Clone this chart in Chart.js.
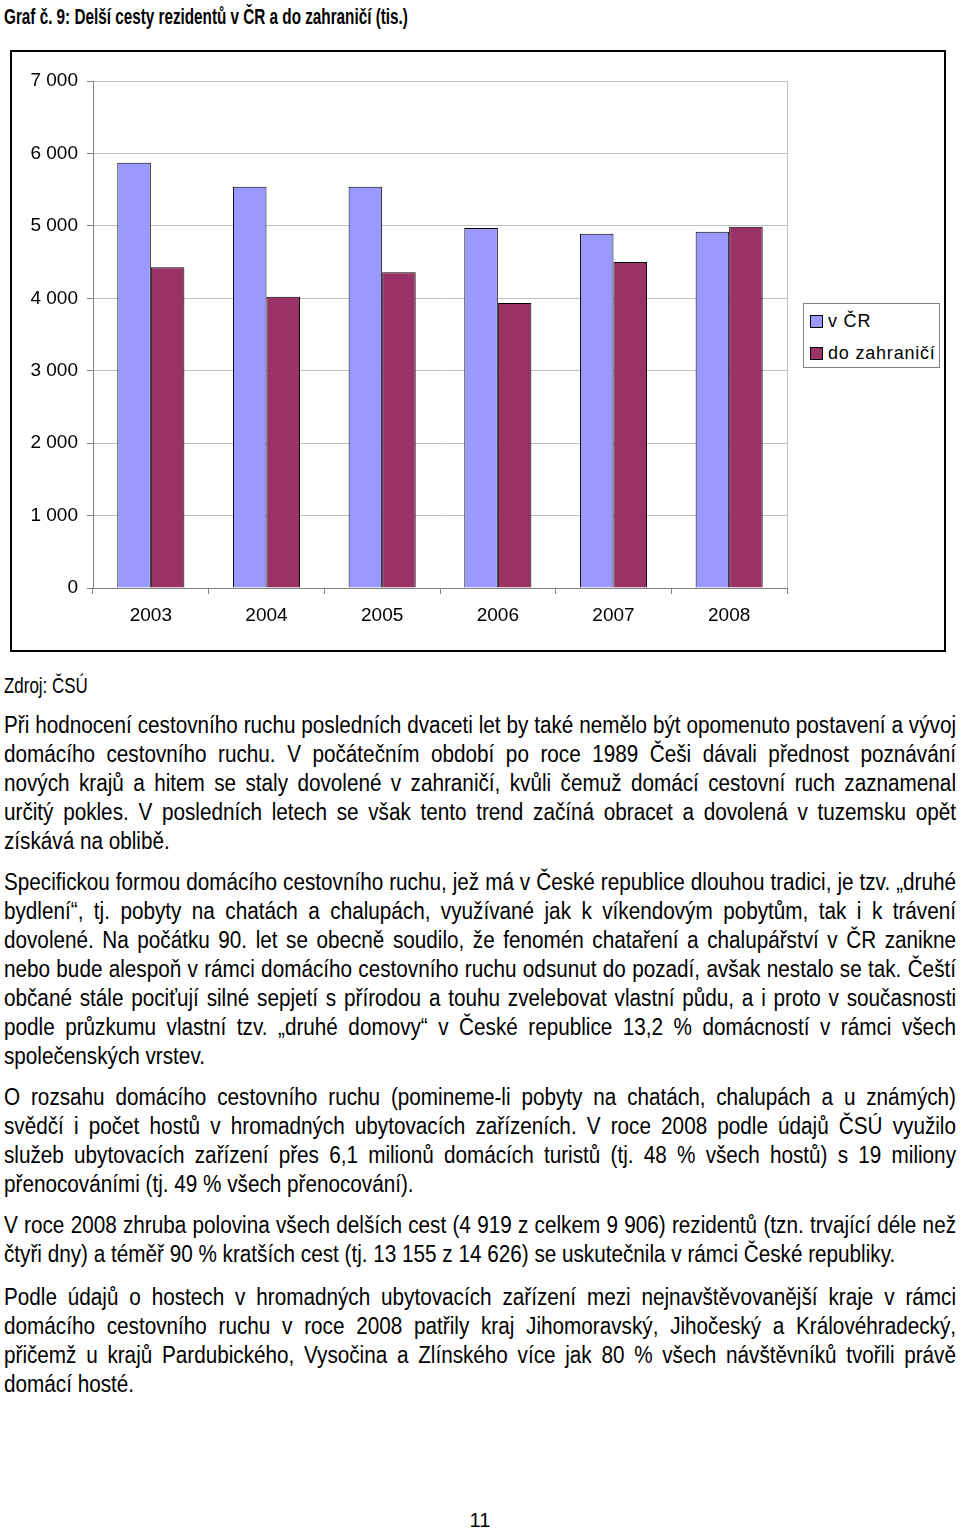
<!DOCTYPE html>
<html lang="cs">
<head>
<meta charset="utf-8">
<script src="https://cdn.jsdelivr.net/npm/chart.js@4.4.1/dist/chart.umd.min.js"></script>
<style>
body{margin:0;background:#fff;width:960px;height:1529px;position:relative;overflow:hidden;font-family:"Liberation Sans",Arial,sans-serif;color:#000}
.nadpis{position:absolute;left:4px;top:3px;font-size:22px;font-weight:bold;line-height:28px;white-space:nowrap;transform:scaleX(0.694);transform-origin:left top}
.ramec{position:absolute;left:10px;top:50px;width:936px;height:602px;border:2px solid #000;box-sizing:border-box}
.ramec .plocha{position:absolute;left:0;top:0;width:932px;height:598px}
.legenda{position:absolute;left:803px;top:303px;width:137px;height:65px;border:1px solid #808080;box-sizing:border-box;background:#fff;font-size:18px;letter-spacing:0.8px}
.legenda div{position:absolute;left:6px;height:20px;line-height:20px;white-space:nowrap}
.legenda span{display:inline-block;width:11px;height:11px;border:1px solid #000;margin-right:5px;vertical-align:-1px}
.zdroj{position:absolute;left:4px;top:671px;font-size:22px;line-height:29px;white-space:nowrap;transform:scaleX(0.77);transform-origin:left top}
.odstavec{position:absolute;left:4px;width:952px;font-size:23px;line-height:29px}
.odstavec div{text-align:justify;text-align-last:justify;white-space:nowrap;height:29px;transform-origin:left top}
.odstavec div.konec{text-align:left;text-align-last:left}
.strana{position:absolute;left:0;width:960px;top:1506px;text-align:center;font-size:20px;line-height:28px}
</style>
</head>
<body>

<div class="nadpis">Graf č. 9: Delší cesty rezidentů v ČR a do zahraničí (tis.)</div>

<div class="ramec">
<div class="plocha"><canvas id="grafCesty"></canvas></div>
</div>
<div class="legenda" id="legendaCesty"></div>

<div class="zdroj">Zdroj: ČSÚ</div>

<div class="odstavec" style="top:711px">
<div>Při hodnocení cestovního ruchu posledních dvaceti let by také nemělo být opomenuto postavení a vývoj</div>
<div>domácího cestovního ruchu. V počátečním období po roce 1989 Češi dávali přednost poznávání</div>
<div>nových krajů a hitem se staly dovolené v zahraničí, kvůli čemuž domácí cestovní ruch zaznamenal</div>
<div>určitý pokles. V posledních letech se však tento trend začíná obracet a dovolená v tuzemsku opět</div>
<div class="konec">získává na oblibě.</div>
</div>

<div class="odstavec" style="top:868px">
<div>Specifickou formou domácího cestovního ruchu, jež má v České republice dlouhou tradici, je tzv. „druhé</div>
<div>bydlení“, tj. pobyty na chatách a chalupách, využívané jak k víkendovým pobytům, tak i k trávení</div>
<div>dovolené. Na počátku 90. let se obecně soudilo, že fenomén chataření a chalupářství v ČR zanikne</div>
<div>nebo bude alespoň v rámci domácího cestovního ruchu odsunut do pozadí, avšak nestalo se tak. Čeští</div>
<div>občané stále pociťují silné sepjetí s přírodou a touhu zvelebovat vlastní půdu, a i proto v současnosti</div>
<div>podle průzkumu vlastní tzv. „druhé domovy“ v České republice 13,2 % domácností v rámci všech</div>
<div class="konec">společenských vrstev.</div>
</div>

<div class="odstavec" style="top:1083px">
<div>O rozsahu domácího cestovního ruchu (pomineme-li pobyty na chatách, chalupách a u známých)</div>
<div>svědčí i počet hostů v hromadných ubytovacích zařízeních. V roce 2008 podle údajů ČSÚ využilo</div>
<div>služeb ubytovacích zařízení přes 6,1 milionů domácích turistů (tj. 48 % všech hostů) s 19 miliony</div>
<div class="konec">přenocováními (tj. 49 % všech přenocování).</div>
</div>

<div class="odstavec" style="top:1211px">
<div>V roce 2008 zhruba polovina všech delších cest (4 919 z celkem 9 906) rezidentů (tzn. trvající déle než</div>
<div class="konec">čtyři dny) a téměř 90 % kratších cest (tj. 13 155 z 14 626) se uskutečnila v rámci České republiky.</div>
</div>

<div class="odstavec" style="top:1283px">
<div>Podle údajů o hostech v hromadných ubytovacích zařízení mezi nejnavštěvovanější kraje v rámci</div>
<div>domácího cestovního ruchu v roce 2008 patřily kraj Jihomoravský, Jihočeský a Královéhradecký,</div>
<div>přičemž u krajů Pardubického, Vysočina a Zlínského více jak 80 % všech návštěvníků tvořili právě</div>
<div class="konec">domácí hosté.</div>
</div>

<div class="strana">11</div>

<script>
// data (tis. cest)
const roky=['2003','2004','2005','2006','2007','2008']
const cestyCR=[5870,5540,5540,4970,4890,4919]
const cestyZahranici=[4430,4020,4360,3935,4500,4987]
const nazvySerii=['v ČR','do zahraničí']
const barvySerii=['#9999ff','#993366']

function mezeraTisice(v){
return String(v).replace(/\B(?=(\d{3})+(?!\d))/g,' ')
}

// uzky text odstavcu: zuzeni + zarovnani do bloku
const sirkaTextu=952
const zuzeni=0.9
document.querySelectorAll('.odstavec div').forEach(r=>{
let s=document.createElement('span')
s.textContent=r.textContent
r.textContent=''
r.appendChild(s)
let w=s.getBoundingClientRect().width
let k=Math.min(zuzeni,(sirkaTextu-2)/w)
r.style.width=(sirkaTextu/k)+'px'
r.style.transform=`scaleX(${k})`
})

// prava hrana plochy grafu
const ramecPlochy={
id:'ramecPlochy',
beforeDatasetsDraw(chart){
let a=chart.chartArea
let ctx=chart.ctx
ctx.save()
ctx.strokeStyle='#c0c0c0'
ctx.lineWidth=1
ctx.beginPath()
ctx.moveTo(Math.round(a.right)+0.5,a.top)
ctx.lineTo(Math.round(a.right)+0.5,a.bottom)
ctx.stroke()
ctx.restore()
}
}

let grafCesty=new Chart(document.getElementById('grafCesty'),{
type:'bar',
data:{
labels:roky,
datasets:[{
label:nazvySerii[0],
data:cestyCR,
backgroundColor:barvySerii[0],
borderColor:'#000',
borderWidth:1
},{
label:nazvySerii[1],
data:cestyZahranici,
backgroundColor:barvySerii[1],
borderColor:'#000',
borderWidth:1
}]
},
options:{
responsive:true,
maintainAspectRatio:false,
animation:false,
layout:{padding:{top:29,right:157,left:0,bottom:0}},
datasets:{bar:{categoryPercentage:0.58,barPercentage:1}},
plugins:{
legend:{display:false},
tooltip:{enabled:false}
},
scales:{
x:{
grid:{offset:true,drawOnChartArea:false,tickLength:6,tickColor:'#808080'},
border:{color:'#808080'},
ticks:{color:'#000',padding:10,font:{family:'"Liberation Sans", Arial, sans-serif',size:19}},
afterFit(s){s.height=62}
},
y:{
min:0,
max:7000,
grid:{color:'#c0c0c0',tickLength:6,tickColor:'#808080'},
border:{color:'#808080'},
ticks:{
stepSize:1000,
color:'#000',
padding:9,
font:{family:'"Liberation Sans", Arial, sans-serif',size:19},
callback:v=>mezeraTisice(v)
},
afterFit(s){s.width=81}
}
}
},
plugins:[ramecPlochy]
})

// legenda
let html=''
grafCesty.data.datasets.forEach((d,i)=>{
html+=`<div style="top:${7+i*32}px"><span style="background:${d.backgroundColor}"></span>${d.label}</div>`
})
document.getElementById('legendaCesty').innerHTML=html
</script>
</body>
</html>
